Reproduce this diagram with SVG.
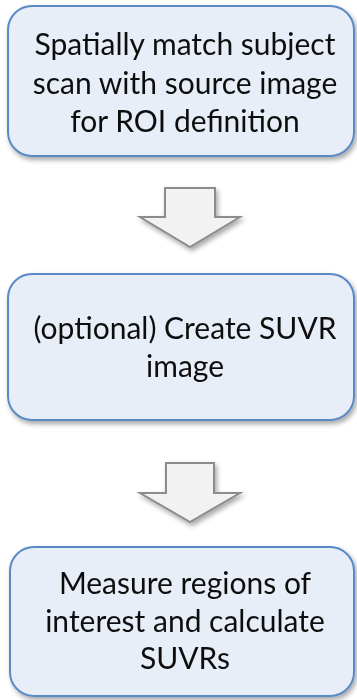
<svg xmlns="http://www.w3.org/2000/svg" width="357" height="700" viewBox="0 0 357 700">
<defs>
<filter id="sh" x="-10%" y="-10%" width="125%" height="130%">
<feDropShadow dx="2" dy="3" stdDeviation="2.5" flood-color="#000" flood-opacity="0.35"/>
</filter>
<style>
.box{fill:#E8EEF7;stroke:#5A8AC6;stroke-width:2}
.arr{fill:#F2F2F2;stroke:#8C8C8C;stroke-width:2;stroke-linejoin:miter}
text{font-family:Lato,"Open Sans",sans-serif;font-size:30px;fill:#111;text-anchor:middle}
</style>
</defs>
<rect width="357" height="700" fill="#fff"/>
<g id="node1" filter="url(#sh)">
<rect class="box" x="8" y="6" width="346" height="150" rx="24"/>
<text x="185" y="55">Spatially match subject</text>
<text x="185" y="94">scan with source image</text>
<text x="185" y="132">for ROI definition</text>
</g>
<g id="node2" filter="url(#sh)">
<rect class="box" x="8" y="274" width="346" height="146" rx="24"/>
<text x="185" y="339">(optional) Create SUVR</text>
<text x="185" y="377">image</text>
</g>
<g id="node3" filter="url(#sh)">
<rect class="box" x="10" y="547" width="344" height="149" rx="24"/>
<text x="185" y="594">Measure regions of</text>
<text x="185" y="632">interest and calculate</text>
<text x="185" y="669">SUVRs</text>
</g>
<g id="connectors" filter="url(#sh)">
<polygon class="arr" points="165,188 215,188 215,217 240,217 190,247 140,217 165,217"/>
<polygon class="arr" points="166,463 214,463 214,493 240,493 190,522 140,493 166,493"/>
</g>
</svg>
